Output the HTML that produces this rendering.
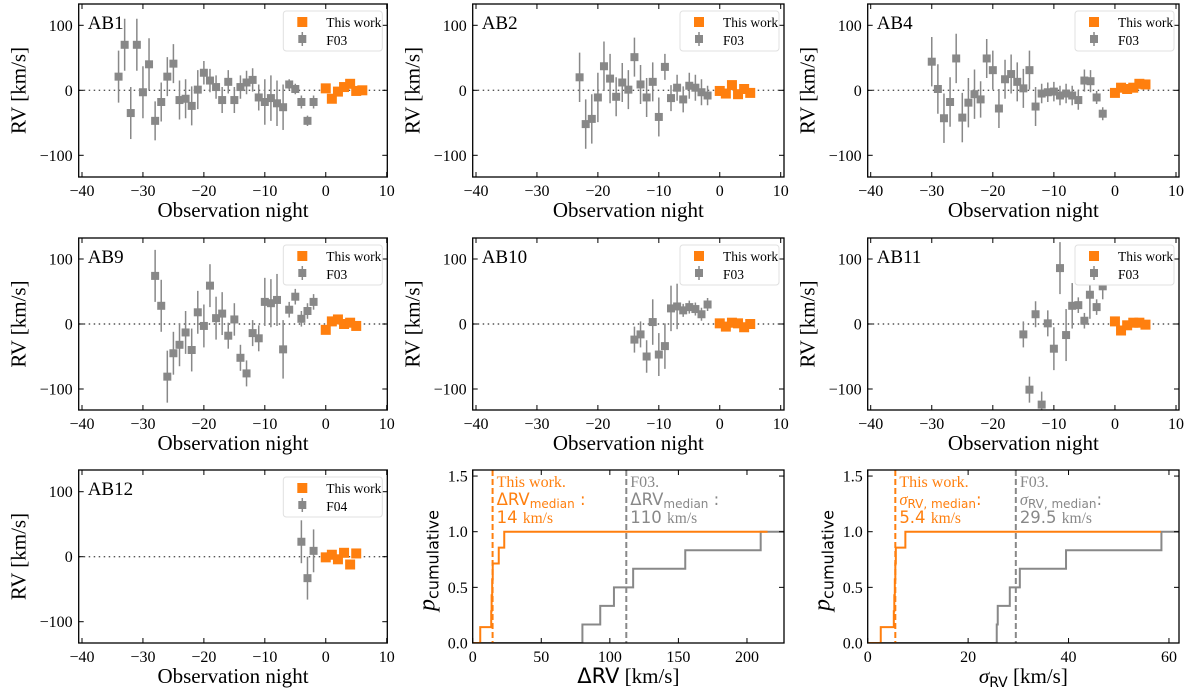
<!DOCTYPE html>
<html><head><meta charset="utf-8"><style>
body{margin:0;background:#fff;}
svg{display:block;font-family:"Liberation Serif",serif;}
</style></head><body>
<svg id="fig" width="1200" height="692" viewBox="0 0 1200 692" xmlns="http://www.w3.org/2000/svg"></svg>
<script>
// ---- RV panel data (night, rv, err) ----
const ab1Night=[-34,-33,-32,-31,-30,-29,-28,-27,-26,-25,-24,-23,-22,-21,-20,-19,-18,-17,-16,-15,-14,-13,-12,-11,-10,-9,-8,-7,-6,-5,-4,-3,-2];
const ab1RV=[21,70,-35,70,-3,40,-47,-18,21,41,-15,-13,-24,1,27,15,5,-15,13,-15,5,12,16,-11,-18,-12,-20,-26,9,2,-18,-47,-18];
const ab1Err=[40,40,40,40,40,40,30,30,30,30,30,30,30,30,18,18,18,20,18,20,18,18,18,20,35,35,35,35,8,8,10,8,10];
const ab1OwnNight=[0,1,2,3,4,5,6];
const ab1OwnRV=[3,-13,-2,5,10,-1,0];

const ab2Night=[-23,-22,-21,-20,-19,-18,-17,-16,-15,-14,-13,-12,-11,-10,-9,-8,-7,-6,-5,-4,-3,-2];
const ab2RV=[20,-52,-44,-11,37,18,-10,12,1,51,9,-11,13,-41,36,-12,4,-14,7,4,-3,-8];
const ab2Err=[38,38,38,38,38,38,30,30,30,30,30,30,30,30,20,20,20,20,20,20,20,15];
const ab2OwnNight=[0,1,2,3,4,5];
const ab2OwnRV=[-1,-5,8,-6,2,-4];

const ab4Night=[-30,-29,-28,-27,-26,-25,-24,-23,-22,-21,-20,-19,-18,-17,-16,-15,-14,-13,-12,-11,-10,-9,-8,-7,-6,-5,-4,-3,-2];
const ab4RV=[44,2,-43,-18,49,-42,-19,-6,-14,49,31,-28,17,25,13,3,31,-25,-5,-3,-2,-8,-5,-8,-15,15,14,-11,-36];
const ab4Err=[38,38,38,38,38,38,38,38,28,30,30,30,30,30,30,30,30,30,15,15,15,15,15,15,15,17,17,10,10];
const ab4OwnNight=[0,1,2,3,4,5];
const ab4OwnRV=[-4,4,2,4,10,9];

const ab9Night=[-28,-27,-26,-25,-24,-23,-22,-21,-20,-19,-18,-17,-16,-15,-14,-13,-12,-11,-10,-9,-8,-7,-6,-5,-4,-3,-2];
const ab9RV=[74,28,-81,-45,-32,-13,-40,18,-3,59,9,16,-18,7,-52,-76,-14,-22,34,32,37,-39,22,42,8,20,34];
const ab9Err=[40,40,40,33,33,33,33,33,33,33,33,33,20,25,20,20,20,20,37,37,40,45,12,12,12,12,12];
const ab9OwnNight=[0,1,2,3,4,5];
const ab9OwnRV=[-9,4,7,0,2,-3];

const ab10Night=[-14,-13,-12,-11,-10,-9,-8,-7,-6,-5,-4,-3,-2];
const ab10RV=[-24,-16,-50,3,-47,-34,24,27,21,26,23,15,30];
const ab10Err=[20,20,25,35,33,35,35,35,10,10,10,10,10];
const ab10OwnNight=[0,1,2,3,4,5];
const ab10OwnRV=[1,-4,2,1,-5,0];

const ab11Night=[-15,-14,-13,-12,-11,-10,-9,-8,-7,-6,-5,-4.1,-3.9,-3,-2];
const ab11RV=[-16,-101,15,-124,1,-38,86,-17,28,29,5,45,80,26,58];
const ab11Err=[20,20,20,20,20,33,40,40,35,12,12,37,10,12,20];
const ab11OwnNight=[0,1,2,3,4,5];
const ab11OwnRV=[4,-10,-2,2,2,-1];

const ab12Night=[-4,-3,-2];
const ab12RV=[23,-33,9];
const ab12Err=[33,33,33];
const ab12OwnNight=[0,1,2,3,4,5];
const ab12OwnRV=[-1,3,-4,6,-12,5];

const xTicks=[-40,-30,-20,-10,0,10];
const yTicks=[-100,0,100];

// ---- CDF data ----
const dRvOwn=[5.5,13.5,13.8,14.2,14.6,19,23];
const dRvF03=[80,93,103,117,155,210];
const dRvMedians=[14.5,112];
const sigOwn=[2.6,5.2,5.3,5.4,5.5,5.6,7.5];
const sigF03=[25.7,25.9,28.3,30.3,39.5,58.5];
const sigMedians=[5.5,29.5];
const dRvTicks=[0,50,100,150,200];
const sigTicks=[0,20,40,60];
const pTicks=[0,0.5,1.0,1.5];

const ORANGE="#ff7f0e", GRAY="#888888";
const svg=document.getElementById('fig');
const NS="http://www.w3.org/2000/svg";
function mk(tag,attrs,parent,text){const e=document.createElementNS(NS,tag);for(const k in attrs)e.setAttribute(k,attrs[k]);if(text!==undefined)e.textContent=text;(parent||svg).appendChild(e);return e;}
function fmt(v){return v<0?"\u2212"+(-v):String(v);}

const cols=[{l:78.7,r:387.3,a:82,b:386.7},{l:472.7,r:784,a:476,b:780.7},{l:867.7,r:1179,a:870.7,b:1176}];
const rows=[{t:4,bo:177,z:90.3},{t:238,bo:410,z:324},{t:470,bo:643,z:556.7}];

function rvPanel(ci,ri,name,ref,nights,rv,err,ownN,ownRV){
  const c=cols[ci],r=rows[ri];
  const g=mk('g',{});
  
  
  const X=v=>c.a+(v+40)/50*(c.b-c.a);
  const Y=v=>r.z-v*0.65;
  const zl=mk('line',{x1:c.l,x2:c.r,y1:Y(0),y2:Y(0),stroke:'#555','stroke-width':1.4,'stroke-dasharray':'1.5,3.5'},g);
  
  const clip=mk('clipPath',{id:'clip'+name},g);mk('rect',{x:c.l,y:r.t,width:c.r-c.l,height:r.bo-r.t},clip);
  const dg=mk('g',{'clip-path':'url(#clip'+name+')'},g);
  for(let i=0;i<nights.length;i++){
    const x=X(nights[i]);
    const eb=mk('line',{x1:x,x2:x,y1:Y(rv[i]-err[i]),y2:Y(rv[i]+err[i]),stroke:GRAY,'stroke-width':1.5},dg);
    
    const p=mk('rect',{x:x-4,y:Y(rv[i])-4,width:8,height:8,fill:GRAY},dg);
    
  }
  for(let i=0;i<ownN.length;i++){
    const p=mk('rect',{x:X(ownN[i])-5,y:Y(ownRV[i])-5,width:10,height:10,fill:ORANGE},dg);
    
  }
  const fr=mk('rect',{x:c.l,y:r.t,width:c.r-c.l,height:r.bo-r.t,fill:'none',stroke:'#000','stroke-width':1.3},g);
  
  xTicks.forEach(v=>{const x=X(v);
    mk('line',{x1:x,x2:x,y1:r.bo,y2:r.bo-5,stroke:'#000'},g);mk('line',{x1:x,x2:x,y1:r.t,y2:r.t+5,stroke:'#000'},g);
    const t=mk('text',{x:x,y:r.bo+19,'font-size':16,'text-anchor':'middle'},g,fmt(v));
    });
  yTicks.forEach(v=>{const y=Y(v);
    mk('line',{x1:c.l,x2:c.l+5,y1:y,y2:y,stroke:'#000'},g);mk('line',{x1:c.r,x2:c.r-5,y1:y,y2:y,stroke:'#000'},g);
    const t=mk('text',{x:c.l-6,y:y+5.5,'font-size':16,'text-anchor':'end'},g,fmt(v));
    });
  const xl=mk('text',{x:(c.l+c.r)/2,y:r.bo+40,'font-size':21,'text-anchor':'middle'},g,'Observation night');
  
  const yx=c.l-53,yy=(r.t+r.bo)/2;
  const yl=mk('text',{x:yx,y:yy,'font-size':21,'text-anchor':'middle',transform:`rotate(-90 ${yx} ${yy})`},g,'RV [km/s]');
  
  const lb=mk('text',{x:c.l+9,y:r.t+25,'font-size':19},g,name);
  
  const lg=mk('g',{},g);
  mk('rect',{x:c.r-104,y:r.t+7,width:99,height:40,rx:3,fill:'#fff',stroke:'#e0e0e0'},lg);
  mk('rect',{x:c.r-90,y:r.t+13,width:10,height:10,fill:ORANGE},lg);
  const t1=mk('text',{x:c.r-61,y:r.t+23,'font-size':13.5},lg,'This work');
  
  mk('line',{x1:c.r-85,x2:c.r-85,y1:r.t+28,y2:r.t+42,stroke:GRAY,'stroke-width':1.5},lg);
  mk('rect',{x:c.r-89,y:r.t+31,width:8,height:8,fill:GRAY},lg);
  const t2=mk('text',{x:c.r-61,y:r.t+41,'font-size':13.5},lg,ref);
  
}
rvPanel(0,0,'AB1','F03',ab1Night,ab1RV,ab1Err,ab1OwnNight,ab1OwnRV);
rvPanel(1,0,'AB2','F03',ab2Night,ab2RV,ab2Err,ab2OwnNight,ab2OwnRV);
rvPanel(2,0,'AB4','F03',ab4Night,ab4RV,ab4Err,ab4OwnNight,ab4OwnRV);
rvPanel(0,1,'AB9','F03',ab9Night,ab9RV,ab9Err,ab9OwnNight,ab9OwnRV);
rvPanel(1,1,'AB10','F03',ab10Night,ab10RV,ab10Err,ab10OwnNight,ab10OwnRV);
rvPanel(2,1,'AB11','F03',ab11Night,ab11RV,ab11Err,ab11OwnNight,ab11OwnRV);
rvPanel(0,2,'AB12','F04',ab12Night,ab12RV,ab12Err,ab12OwnNight,ab12OwnRV);

function cdfPanel(ci,key,xmax,tickVals,own,f03,meds,ownEnd,xTitleHTML,medSym,ownMedTxt,f03MedTxt){
  const c=cols[ci],r=rows[2];
  const g=mk('g',{});
  
  
  const X=v=>c.l+v/xmax*(c.r-c.l);
  const Y=v=>r.bo-v*111.3;
  function stepPath(xs,end){
    const n=xs.length;let d=`M${X(0)},${Y(0)}`;
    xs.forEach((x,i)=>{d+=` L${X(x)},${Y(i/n)} L${X(x)},${Y((i+1)/n)}`;});
    d+=` L${X(end)},${Y(1)}`;return d;}
  const clip=mk('clipPath',{id:'clipc'+key},g);mk('rect',{x:c.l,y:r.t,width:c.r-c.l,height:r.bo-r.t},clip);
  const dg=mk('g',{'clip-path':'url(#clipc'+key+')'},g);
  const gp=mk('path',{d:stepPath(f03,xmax),fill:'none',stroke:GRAY,'stroke-width':2},dg);
  
  const op=mk('path',{d:stepPath(own,ownEnd),fill:'none',stroke:ORANGE,'stroke-width':2},dg);
  
  const m1=mk('line',{x1:X(meds[0]),x2:X(meds[0]),y1:r.t,y2:r.bo,stroke:ORANGE,'stroke-width':2,'stroke-dasharray':'6,3'},dg);
  
  const m2=mk('line',{x1:X(meds[1]),x2:X(meds[1]),y1:r.t,y2:r.bo,stroke:GRAY,'stroke-width':2,'stroke-dasharray':'6,3'},dg);
  
  mk('rect',{x:c.l,y:r.t,width:c.r-c.l,height:r.bo-r.t,fill:'none',stroke:'#000','stroke-width':1.3},g);
  tickVals.forEach(v=>{const x=X(v);
    mk('line',{x1:x,x2:x,y1:r.bo,y2:r.bo-5,stroke:'#000'},g);mk('line',{x1:x,x2:x,y1:r.t,y2:r.t+5,stroke:'#000'},g);
    const t=mk('text',{x:x,y:r.bo+19,'font-size':16,'text-anchor':'middle'},g,String(v));
    });
  pTicks.forEach(v=>{const y=Y(v);
    mk('line',{x1:c.l,x2:c.l+5,y1:y,y2:y,stroke:'#000'},g);mk('line',{x1:c.r,x2:c.r-5,y1:y,y2:y,stroke:'#000'},g);
    const t=mk('text',{x:c.l-5,y:y+5.5,'font-size':16,'text-anchor':'end'},g,v.toFixed(1));
    });
  const xt=mk('text',{x:(c.l+c.r)/2,y:r.bo+40,'font-size':21,'text-anchor':'middle'},g);
  xt.innerHTML=xTitleHTML;
  
  const yx=c.l-38,yy=(r.t+r.bo)/2+4;
  const yt=mk('text',{x:yx,y:yy,'font-size':24,'text-anchor':'middle',transform:`rotate(-90 ${yx} ${yy})`},g);
  yt.innerHTML='<tspan font-style="italic">p</tspan><tspan font-family="DejaVu Sans, sans-serif" font-size="16" dy="4">cumulative</tspan>';
  
  function ann(x,color,head,val,name){
    const a=mk('g',{fill:color},g);
    mk('text',{x:x,y:r.t+17,'font-size':16},a,head);
    const t=mk('text',{x:x,y:r.t+35,'font-size':16.5,'font-family':'DejaVu Sans, sans-serif'},a);
    t.innerHTML=medSym;
    const t3=mk('text',{x:x,y:r.t+53,'font-size':16.5,'font-family':'DejaVu Sans, sans-serif'},a);
    t3.innerHTML=val+' <tspan font-family="Liberation Serif, serif" font-size="15.5">km/s</tspan>';
  }
  ann(X(meds[0])+4,ORANGE,'This work.',ownMedTxt,'this-work-median-annotation');
  ann(X(meds[1])+4,GRAY,'F03.',f03MedTxt,'f03-median-annotation');
}
cdfPanel(1,'drv',227,dRvTicks,dRvOwn,dRvF03,dRvMedians,215,
  '<tspan font-family="DejaVu Sans, sans-serif">\u0394RV</tspan> [km/s]',
  '\u0394RV<tspan font-size="12" dy="3">median</tspan><tspan dy="-3"> :</tspan>','14','110');
cdfPanel(2,'sigma',62,sigTicks,sigOwn,sigF03,sigMedians,58.4,
  '<tspan font-style="italic">\u03c3</tspan><tspan font-family="DejaVu Sans, sans-serif" font-size="14" dy="4">RV</tspan><tspan dy="-4"> [km/s]</tspan>',
  '<tspan font-style="italic" font-family="Liberation Serif, serif">\u03c3</tspan><tspan font-size="12" dy="3">RV, median</tspan><tspan dy="-3">:</tspan>','5.4','29.5');
</script>
</body></html>
